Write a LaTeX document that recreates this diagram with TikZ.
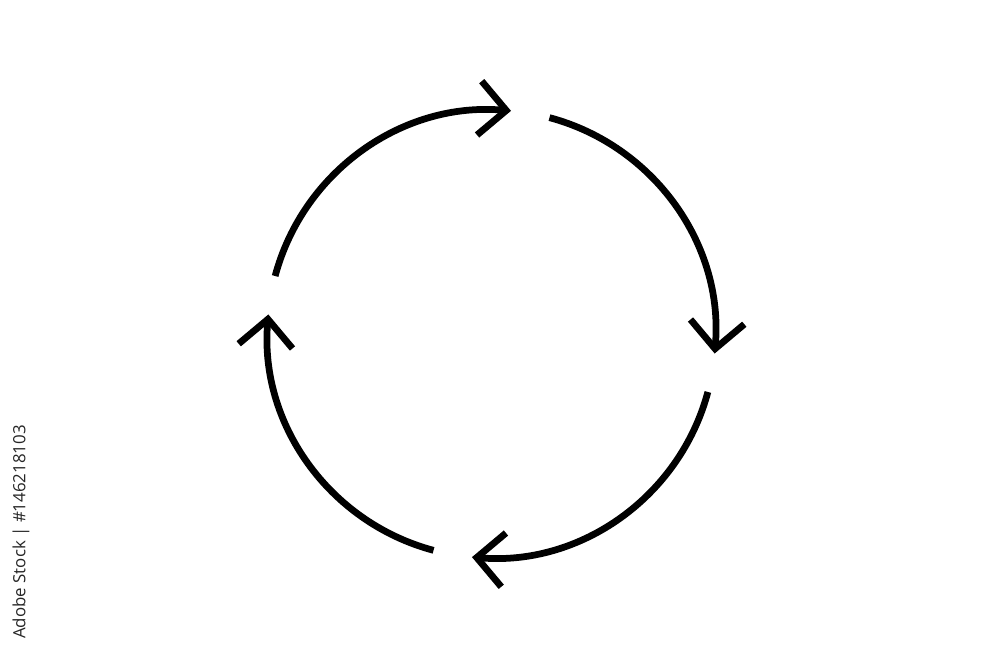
\documentclass[tikz,border=0pt]{standalone}
\usepackage{fontspec}
\newfontfamily\stockfont{Open Sans}
\usetikzlibrary{arrows.meta}
\definecolor{stockgray}{HTML}{262626}
\tikzset{
	cyclearc/.style={line width=0.135cm, line cap=butt, -{Straight Barb[sharp, length=0.54cm, width=1.08cm]}},
	stocklabel/.style={rotate=90, text=stockgray, inner sep=0pt, font=\stockfont\fontsize{9.6}{11}\selectfont}
}

\begin{document}
\begin{tikzpicture}
	\useasboundingbox (0,0) rectangle (20,13.34);
	\coordinate (c) at (9.83,6.66);
	\foreach \k in {0,...,3}
		\draw[cyclearc, shift={(c)}] ({165-90*\k}:4.48) arc[start angle={165-90*\k}, end angle={85-90*\k}, radius=4.48];
	\node[stocklabel] (stock) at (0.42,2.7) {Adobe Stock | \#146218103};
\end{tikzpicture}
\end{document}
